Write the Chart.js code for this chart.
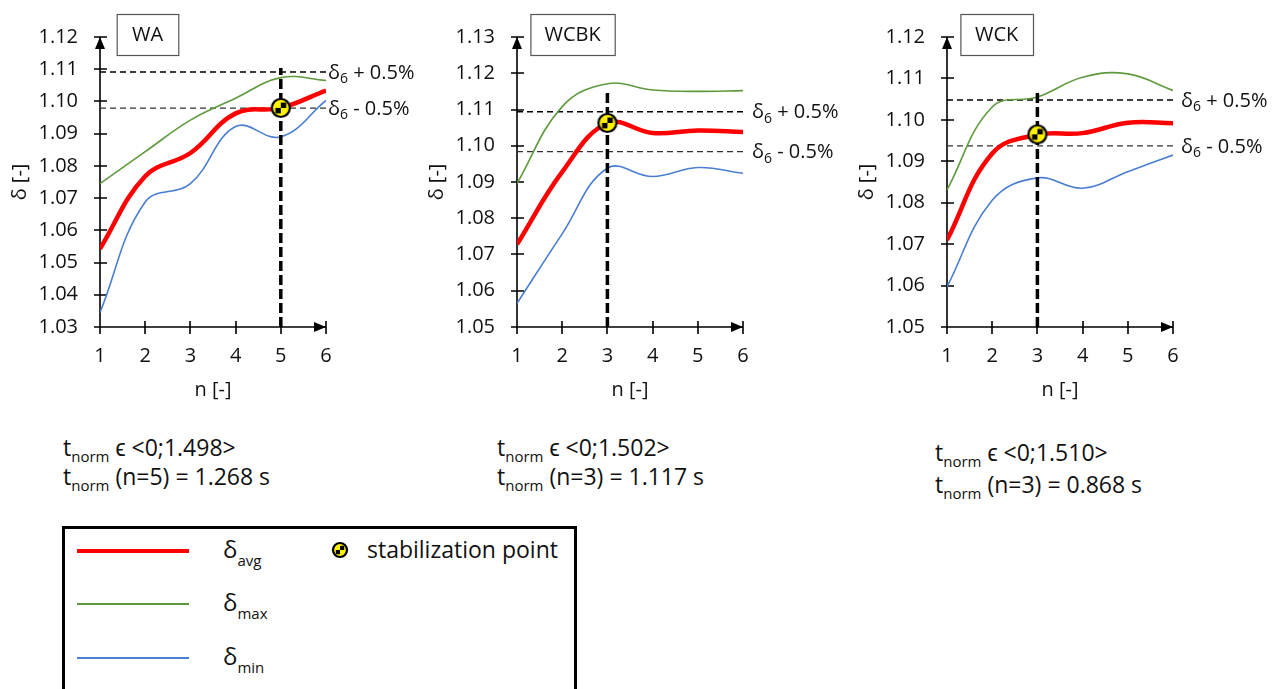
<!DOCTYPE html>
<html>
<head>
<meta charset="utf-8">
<script src="https://cdn.jsdelivr.net/npm/chart.js@4"></script>
<style>
  body { margin: 0; background: #fff; width: 1277px; height: 689px; overflow: hidden; position: relative; font-family: "Open Sans", sans-serif; color: #111; }
  canvas.plot { position: absolute; top: 0; }
  .note { position: absolute; font-size: 23px; white-space: nowrap; line-height: 30px; }
  .note sub { font-size: 15px; vertical-align: -6px; line-height: 0; }
  #legend { position: absolute; left: 62px; top: 526px; width: 515px; height: 200px; border: 3.5px solid #000; box-sizing: border-box; }
  .lline { position: absolute; left: 12px; width: 112px; }
  .ltxt { position: absolute; left: 158px; font-size: 24px; line-height: 28px; white-space: nowrap; }
  .ltxt sub { font-size: 15px; vertical-align: -8px; line-height: 0; }
</style>
</head>
<body>
<canvas id="chart0" class="plot" width="420" height="410" style="left:0px"></canvas>
<canvas id="chart1" class="plot" width="430" height="410" style="left:417px"></canvas>
<canvas id="chart2" class="plot" width="430" height="410" style="left:847px"></canvas>

<div class="note" style="left:63px; top:432px">t<sub>norm</sub> &#1013; &lt;0;1.498&gt;</div>
<div class="note" style="left:63px; top:461px">t<sub>norm</sub> (n=5) = 1.268 s</div>
<div class="note" style="left:497px; top:432px">t<sub>norm</sub> &#1013; &lt;0;1.502&gt;</div>
<div class="note" style="left:497px; top:461px">t<sub>norm</sub> (n=3) = 1.117 s</div>
<div class="note" style="left:935px; top:437px">t<sub>norm</sub> &#1013; &lt;0;1.510&gt;</div>
<div class="note" style="left:935px; top:469px">t<sub>norm</sub> (n=3) = 0.868 s</div>

<div id="legend">
  <div class="lline" style="top:20px; height:4px; background:#ff0000"></div>
  <div class="ltxt" style="top:6px">&delta;<sub>avg</sub></div>
  <div class="lline" style="top:74px; height:2px; background:#5e9a3d"></div>
  <div class="ltxt" style="top:59px">&delta;<sub>max</sub></div>
  <div class="lline" style="top:128px; height:2px; background:#4a7ed0"></div>
  <div class="ltxt" style="top:113px">&delta;<sub>min</sub></div>
  <canvas id="legendMarker" width="18" height="18" style="position:absolute; left:266px; top:12px"></canvas>
  <div class="ltxt" style="left:302px; top:6px; font-size:23px">stabilization point</div>
</div>

<script>
// ---------------------
// DATA
// ---------------------
const nValues = [1, 2, 3, 4, 5, 6];
const panelTitles = ["WA", "WCBK", "WCK"];

const avgWA = [1.0543, 1.0768, 1.0840, 1.0963, 1.0980, 1.1034];
const maxWA = [1.0745, 1.0844, 1.0942, 1.1010, 1.1074, 1.1065];
const minWA = [1.0345, 1.0688, 1.0745, 1.0922, 1.0890, 1.1003];

const avgWCBK = [1.0728, 1.0928, 1.1062, 1.1035, 1.1042, 1.1038];
const maxWCBK = [1.0896, 1.1108, 1.1171, 1.1154, 1.1150, 1.1152];
const minWCBK = [1.0565, 1.0757, 1.0938, 1.0915, 1.0940, 1.0924];

const avgWCK = [1.0710, 1.0919, 1.0964, 1.0968, 1.0993, 1.0992];
const maxWCK = [1.0831, 1.1031, 1.1055, 1.1103, 1.1111, 1.1071];
const minWCK = [1.0597, 1.0806, 1.0860, 1.0835, 1.0875, 1.0915];

const avgSeries = [avgWA, avgWCBK, avgWCK];
const maxSeries = [maxWA, maxWCBK, maxWCK];
const minSeries = [minWA, minWCBK, minWCK];

const yMin = [1.03, 1.05, 1.05];
const yMax = [1.12, 1.13, 1.12];
const yStep = 0.01;

// delta_6 +/- 0.5% band
const bandUpper = [1.1091, 1.1094, 1.1048];
const bandLower = [1.0979, 1.0984, 1.0937];

// stabilization point
const stabN = [5, 3, 3];
const stabDelta = [1.0980, 1.1063, 1.0965];
const stabLineTop = [1.1104, 1.1154, 1.1073];

// ---------------------
// MARKER (yellow/black target)
// ---------------------
function drawTarget(c, cx, cy, r) {
  c.save();
  c.beginPath();
  c.arc(cx, cy, r, 0, Math.PI * 2);
  c.fillStyle = "#fff200";
  c.fill();
  c.clip();
  c.fillStyle = "#000";
  const s = r * 0.6;
  c.fillRect(cx, cy - s, s, s);
  c.fillRect(cx - s, cy, s, s);
  c.restore();
  c.beginPath();
  c.arc(cx, cy, r, 0, Math.PI * 2);
  c.lineWidth = 2.2;
  c.strokeStyle = "#000";
  c.stroke();
}

const markerImg = document.createElement("canvas");
markerImg.width = 24;
markerImg.height = 24;
drawTarget(markerImg.getContext("2d"), 12, 12, 9);
drawTarget(document.getElementById("legendMarker").getContext("2d"), 9, 9, 7);

// ---------------------
// AXES, TITLE BOX, BAND LABELS
// ---------------------
function deltaLabel(ctx, x, y, sign) {
  ctx.fillStyle = "#111";
  ctx.textAlign = "left";
  ctx.textBaseline = "middle";
  ctx.font = '20px "Open Sans"';
  ctx.fillText("\u03B4", x, y);
  let w = ctx.measureText("\u03B4").width;
  ctx.font = '14px "Open Sans"';
  ctx.fillText("6", x + w, y + 6);
  w += ctx.measureText("6").width;
  ctx.font = '20px "Open Sans"';
  ctx.fillText(" " + sign + " 0.5%", x + w, y);
}

const framePlugin = {
  id: "frame",
  beforeDatasetsDraw(chart) {
    const { ctx, chartArea: a, scales } = chart;
    const x = scales.x, y = scales.y;
    ctx.save();
    ctx.strokeStyle = "#000";
    ctx.fillStyle = "#000";
    ctx.lineWidth = 1.6;
    ctx.beginPath();
    ctx.moveTo(a.left, a.bottom);
    ctx.lineTo(a.left, a.top);
    ctx.moveTo(a.left - 6, a.bottom);
    ctx.lineTo(a.right, a.bottom);
    y.ticks.forEach((t) => {
      const py = Math.round(y.getPixelForValue(t.value));
      ctx.moveTo(a.left - 6, py);
      ctx.lineTo(a.left + 7, py);
    });
    x.ticks.forEach((t) => {
      const px = Math.round(x.getPixelForValue(t.value));
      ctx.moveTo(px, a.bottom - 6);
      ctx.lineTo(px, a.bottom + 7);
    });
    ctx.stroke();
    // arrow heads
    ctx.beginPath();
    ctx.moveTo(a.left, a.top);
    ctx.lineTo(a.left - 5, a.top + 12);
    ctx.lineTo(a.left + 5, a.top + 12);
    ctx.closePath();
    ctx.fill();
    ctx.beginPath();
    ctx.moveTo(a.right, a.bottom);
    ctx.lineTo(a.right - 12, a.bottom - 5);
    ctx.lineTo(a.right - 12, a.bottom + 5);
    ctx.closePath();
    ctx.fill();
    ctx.restore();
  },
  afterDraw(chart, args, opts) {
    const { ctx, chartArea: a, scales } = chart;
    const x = scales.x, y = scales.y;
    ctx.save();
    // panel name box
    const bx = a.left + opts.boxOffset, by = 14, bw = opts.boxWidth, bh = 41;
    ctx.fillStyle = "#fff";
    ctx.fillRect(bx, by, bw, bh);
    ctx.strokeStyle = "#555";
    ctx.lineWidth = 1.2;
    ctx.strokeRect(bx + 0.5, by + 0.5, bw, bh);
    ctx.fillStyle = "#111";
    ctx.font = '20px "Open Sans"';
    ctx.textAlign = "center";
    ctx.textBaseline = "middle";
    ctx.fillText(opts.title, bx + bw / 2, by + bh / 2 + 1);
    // band labels
    const lx = x.getPixelForValue(6) + opts.labelGap;
    deltaLabel(ctx, lx, y.getPixelForValue(opts.upper) + 1, "+");
    deltaLabel(ctx, lx, y.getPixelForValue(opts.lower) + 1, "-");
    ctx.restore();
  },
};

Chart.defaults.font.family = '"Open Sans", sans-serif';
Chart.defaults.color = "#111";

function pts(vals) {
  return nValues.map((n, k) => ({ x: n, y: vals[k] }));
}

const boxOffset = [16.7, 13.4, 13.4];
const boxWidth = [61.6, 84.3, 72.6];
const labelGap = [2, 9, 8];
const padRight = [94, 104, 104];

function renderPanel(i) {
  const canvas = document.getElementById("chart" + i);
  const axisFont = { size: 20 };

  new Chart(canvas, {
    type: "line",
    data: {
      datasets: [
        {
          label: "stabilization point",
          data: [{ x: stabN[i], y: stabDelta[i] }],
          showLine: false,
          pointStyle: markerImg,
          pointRadius: 10,
        },
        {
          label: "n stab",
          data: [{ x: stabN[i], y: yMin[i] }, { x: stabN[i], y: stabLineTop[i] }],
          borderColor: "#000",
          borderWidth: 3.5,
          borderDash: [10, 4],
          pointRadius: 0,
          tension: 0,
        },
        {
          label: "avg",
          data: pts(avgSeries[i]),
          borderColor: "#ff0000",
          borderWidth: 4.5,
          pointRadius: 0,
          tension: 0.4,
        },
        {
          label: "max",
          data: pts(maxSeries[i]),
          borderColor: "#5e9a3d",
          borderWidth: 1.6,
          pointRadius: 0,
          tension: 0.4,
        },
        {
          label: "min",
          data: pts(minSeries[i]),
          borderColor: "#4a7ed0",
          borderWidth: 1.6,
          pointRadius: 0,
          tension: 0.4,
        },
        {
          label: "d6 + 0.5%",
          data: [{ x: 1, y: bandUpper[i] }, { x: 6, y: bandUpper[i] }],
          borderColor: "#000",
          borderWidth: 1.5,
          borderDash: [6, 4],
          pointRadius: 0,
        },
        {
          label: "d6 - 0.5%",
          data: [{ x: 1, y: bandLower[i] }, { x: 6, y: bandLower[i] }],
          borderColor: "#333",
          borderWidth: 1.3,
          borderDash: [6, 4],
          pointRadius: 0,
        },
      ],
    },
    options: {
      responsive: false,
      animation: false,
      layout: { padding: { left: 0, right: padRight[i], top: 37, bottom: 0 } },
      plugins: {
        legend: { display: false },
        tooltip: { enabled: false },
        frame: {
          title: panelTitles[i],
          boxOffset: boxOffset[i],
          boxWidth: boxWidth[i],
          labelGap: labelGap[i],
          upper: bandUpper[i],
          lower: bandLower[i],
        },
      },
      scales: {
        x: {
          type: "linear",
          min: 1,
          max: 6,
          afterFit: (s) => { s.height = 83; },
          grid: { display: false, drawTicks: false },
          border: { display: false },
          ticks: { stepSize: 1, padding: 17, font: axisFont, color: "#111" },
          title: { display: true, text: "n [-]", font: axisFont, color: "#111", padding: { top: 0, bottom: 8 } },
        },
        y: {
          min: yMin[i],
          max: yMax[i],
          afterFit: (s) => { s.width = 100; },
          grid: { display: false, drawTicks: false },
          border: { display: false },
          ticks: {
            stepSize: yStep,
            padding: 22,
            font: axisFont,
            color: "#111",
            callback: (v) => v.toFixed(2),
          },
          title: { display: true, text: "\u03B4 [-]", font: axisFont, color: "#111", padding: { top: 8, bottom: 0 } },
        },
      },
    },
    plugins: [framePlugin],
  });
}

[0, 1, 2].forEach(renderPanel);
</script>
</body>
</html>
